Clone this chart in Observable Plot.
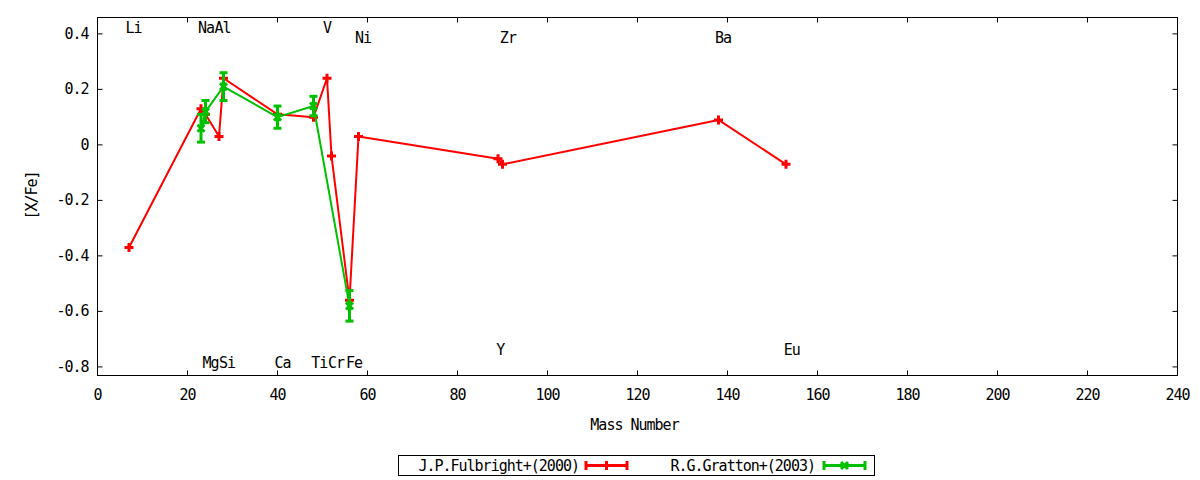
<!DOCTYPE html>
<html><head><meta charset="utf-8">
<script src="https://cdn.jsdelivr.net/npm/d3@7"></script>
<script src="https://cdn.jsdelivr.net/npm/@observablehq/plot@0.6"></script>
<style>
body{margin:0;background:#fff;}
#chart svg{display:block;}
</style></head><body><div id="chart"></div><script>
// ---- data ----
const xTicks = [0, 20, 40, 60, 80, 100, 120, 140, 160, 180, 200, 220, 240];
const yTicks = [-0.8, -0.6, -0.4, -0.2, 0, 0.2, 0.4];
const yTickLabels = ["-0.8", "-0.6", "-0.4", "-0.2", "0", "0.2", "0.4"];

const seriesNames = ["J.P.Fulbright+(2000)", "R.G.Gratton+(2003)"];
const seriesColors = ["#ff0000", "#00c000"];

const fulbrightElements = ["Li","Na","Mg","Al","Si","Ca","Ti","V","Cr","Fe","Ni","Y","Zr","Ba","Eu"];
const fulbrightMass     = [7, 23, 24, 27, 28, 40, 48, 51, 52, 56, 58, 89, 90, 138, 153];
const fulbrightXFe      = [-0.37, 0.13, 0.11, 0.03, 0.24, 0.11, 0.10, 0.24, -0.04, -0.56, 0.03, -0.05, -0.07, 0.09, -0.07];

const grattonElements = ["Na","Mg","Si","Ca","Ti","Fe"];
const grattonMass     = [23, 24, 28, 40, 48, 56];
const grattonXFe      = [0.06, 0.12, 0.21, 0.10, 0.14, -0.58];
const grattonErr      = [0.05, 0.04, 0.05, 0.04, 0.035, 0.055];

const labelNames = ["Li","Na","Al","V","Ni","Zr","Ba","Y","Eu","Mg","Si","Ca","Ti","Cr","Fe"];
const labelMass  = [8.0, 24.1, 27.8, 51.0, 59.0, 91.2, 139.0, 89.5, 154.3, 25.1, 28.8, 41.1, 49.3, 53.0, 57.0];
const labelXFe   = [0.42, 0.42, 0.42, 0.42, 0.385, 0.385, 0.385, -0.738, -0.738, -0.786, -0.786, -0.786, -0.786, -0.786, -0.786];

// ---- build tables ----
const fulbright = fulbrightMass.map((m, i) => ({el: fulbrightElements[i], mass: m, v: fulbrightXFe[i]}));
const gratton = grattonMass.map((m, i) => ({el: grattonElements[i], mass: m, v: grattonXFe[i], e: grattonErr[i]}));
const labels = labelNames.map((n, i) => ({name: n, mass: labelMass[i], v: labelXFe[i]}));

// ---- custom symbols ----
const sym = (fn) => ({draw: fn});
const plusSym = sym(c => { c.moveTo(-4.5, 0); c.lineTo(4.5, 0); c.moveTo(0, -4.5); c.lineTo(0, 4.5); });
const crossSym = sym(c => { c.moveTo(-3.5, -3.5); c.lineTo(3.5, 3.5); c.moveTo(-3.5, 3.5); c.lineTo(3.5, -3.5); });
const capSym = sym(c => { c.moveTo(-4, 0); c.lineTo(4, 0); });
const tickUp = sym(c => { c.moveTo(0, 0); c.lineTo(0, -5); });
const tickDown = sym(c => { c.moveTo(0, 0); c.lineTo(0, 5); });
const tickRight = sym(c => { c.moveTo(0, 0); c.lineTo(5, 0); });
const tickLeft = sym(c => { c.moveTo(0, 0); c.lineTo(-5, 0); });

const FONT = "DejaVu Sans Mono";
const red = seriesColors[0], green = seriesColors[1];

const chart = Plot.plot({
  width: 1200,
  height: 448,
  marginLeft: 97,
  marginRight: 23,
  marginTop: 17,
  marginBottom: 73,
  style: {fontFamily: FONT, fontSize: "15px", letterSpacing: "-1px", color: "black", background: "white"},
  x: {domain: [0, 240]},
  y: {domain: [-0.831, 0.459]},
  marks: [
    Plot.axisX(xTicks, {tickSize: 0, tickPadding: 14, label: null, fontSize: 15, tickFormat: d => String(d)}),
    Plot.axisY(yTicks, {tickSize: 0, tickPadding: 9, label: null, fontSize: 15,
      tickFormat: d => yTickLabels[yTicks.indexOf(d)]}),
    Plot.dot(xTicks, {x: d => d, frameAnchor: "bottom", symbol: tickUp, stroke: "black", fill: "none", strokeWidth: 1}),
    Plot.dot(xTicks, {x: d => d, frameAnchor: "top", symbol: tickDown, stroke: "black", fill: "none", strokeWidth: 1}),
    Plot.dot(yTicks, {y: d => d, frameAnchor: "left", symbol: tickRight, stroke: "black", fill: "none", strokeWidth: 1}),
    Plot.dot(yTicks, {y: d => d, frameAnchor: "right", symbol: tickLeft, stroke: "black", fill: "none", strokeWidth: 1}),
    Plot.frame({stroke: "black", strokeWidth: 1}),
    Plot.text(labels, {x: "mass", y: "v", text: "name", fontSize: 15, fill: "black"}),
    // Fulbright
    Plot.line(fulbright, {x: "mass", y: "v", stroke: red, strokeWidth: 2}),
    Plot.dot(fulbright, {x: "mass", y: "v", symbol: plusSym, stroke: red, fill: "none", strokeWidth: 3}),
    // Gratton
    Plot.line(gratton, {x: "mass", y: "v", stroke: green, strokeWidth: 2}),
    Plot.ruleX(gratton, {x: "mass", y1: d => d.v - d.e, y2: d => d.v + d.e, stroke: green, strokeWidth: 3}),
    Plot.dot(gratton, {x: "mass", y: d => d.v + d.e, symbol: capSym, stroke: green, fill: "none", strokeWidth: 3}),
    Plot.dot(gratton, {x: "mass", y: d => d.v - d.e, symbol: capSym, stroke: green, fill: "none", strokeWidth: 3}),
    Plot.dot(gratton, {x: "mass", y: "v", symbol: crossSym, stroke: green, fill: "none", strokeWidth: 3}),
    // axis titles
    Plot.text(["Mass Number"], {frameAnchor: "bottom", dy: 50, dx: -3, text: d => d, fontSize: 15, fill: "black",
      textAnchor: "middle", lineAnchor: "middle"}),
    Plot.text(["[X/Fe]"], {frameAnchor: "left", dx: -65, dy: -1, rotate: -90, text: d => d, fontSize: 15, fill: "black",
      textAnchor: "middle", lineAnchor: "middle"})
  ]
});
document.getElementById("chart").appendChild(chart);

// ---- legend (below the plot) ----
const lg = d3.create("svg").attr("width", 1200).attr("height", 32)
  .style("display", "block").style("font-family", FONT).style("font-size", "15px").style("letter-spacing", "-1px");
lg.append("rect").attr("x", 398.5).attr("y", 7.5).attr("width", 476).attr("height", 20)
  .attr("fill", "none").attr("stroke", "black");
const entries = [
  {name: seriesNames[0], color: seriesColors[0], textEnd: 579, x1: 585, x2: 628, marker: "plus"},
  {name: seriesNames[1], color: seriesColors[1], textEnd: 815, x1: 823, x2: 866, marker: "cross"}
];
const yMid = 17.5;
for (const e of entries) {
  lg.append("text").attr("x", e.textEnd).attr("y", yMid).attr("dy", "0.35em")
    .attr("text-anchor", "end").attr("fill", "black").text(e.name);
  lg.append("line").attr("x1", e.x1).attr("x2", e.x2).attr("y1", yMid).attr("y2", yMid)
    .attr("stroke", e.color).attr("stroke-width", 3);
  for (const x of [e.x1 + 1, e.x2 - 1]) {
    lg.append("line").attr("x1", x).attr("x2", x).attr("y1", yMid - 4.5).attr("y2", yMid + 4.5)
      .attr("stroke", e.color).attr("stroke-width", 3);
  }
  const xm = (e.x1 + e.x2) / 2;
  if (e.marker === "plus") {
    lg.append("path").attr("d", `M${xm},${yMid - 4.5}V${yMid + 4.5}M${xm - 4.5},${yMid}H${xm + 4.5}`)
      .attr("stroke", e.color).attr("stroke-width", 3).attr("fill", "none");
  } else {
    lg.append("path").attr("d", `M${xm - 3.5},${yMid - 3.5}L${xm + 3.5},${yMid + 3.5}M${xm - 3.5},${yMid + 3.5}L${xm + 3.5},${yMid - 3.5}`)
      .attr("stroke", e.color).attr("stroke-width", 3).attr("fill", "none");
  }
}
document.getElementById("chart").appendChild(lg.node());
</script></body></html>
